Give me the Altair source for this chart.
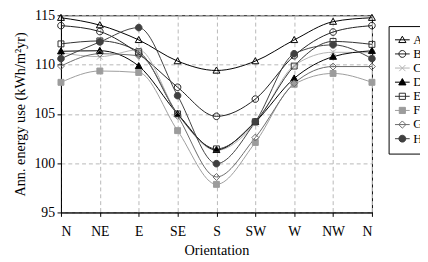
import altair as alt
import pandas as pd

orientations = ["N", "NE", "E", "SE", "S", "SW", "W", "NW", "N"]
series = ["A", "B", "C", "D", "E", "F", "G", "H"]

A = [114.75, 114.0, 112.5, 110.35, 109.4, 110.35, 112.5, 114.35, 114.75]
B = [113.95, 113.35, 111.1, 107.7, 104.75, 106.5, 110.9, 113.3, 113.95]
C = [111.2, 110.8, 111.5, 105.0, 101.3, 104.0, 109.9, 111.25, 111.2]
D = [111.35, 111.4, 109.85, 105.0, 101.35, 104.2, 108.6, 110.8, 111.4]
E = [112.1, 112.4, 111.3, 105.0, 101.45, 104.2, 109.85, 112.35, 112.05]
F = [108.2, 109.35, 109.2, 103.3, 97.85, 102.1, 108.0, 109.1, 108.2]
G = [109.85, 111.1, 110.9, 104.8, 98.6, 102.6, 108.1, 109.8, 109.8]
H = [110.6, 112.3, 113.75, 106.85, 99.95, 104.2, 111.1, 112.0, 110.6]
series_values = {"A": A, "B": B, "C": C, "D": D, "E": E, "F": F, "G": G, "H": H}

line_colors = ["#000000", "#1e1e1e", "#b4b4b4", "#000000", "#303030", "#9c9c9c", "#6a6a6a", "#404040"]
marker_fill = ["transparent", "transparent", "transparent", "#000000",
               "transparent", "#9c9c9c", "transparent", "#404040"]

tri = "M0,-1.05L1.05,0.8L-1.05,0.8Z"
circ = "M1,0A1,1,0,1,1,-1,0A1,1,0,1,1,1,0Z"
sq = "M-0.9,-0.9L0.9,-0.9L0.9,0.9L-0.9,0.9Z"
xm = "M-0.9,-0.9L0.9,0.9M0.9,-0.9L-0.9,0.9"
dia = "M0,-1.05L1.05,0L0,1.05L-1.05,0Z"
marker_shapes = [tri, circ, xm, tri, sq, sq, dia, circ]
stub = "M-2.14,0L2.14,0"
legend_shapes = [stub + s for s in marker_shapes]

rows = []
for s in series:
    for i, v in enumerate(series_values[s]):
        rows.append({"series": s, "pos": i, "value": v})
df = pd.DataFrame(rows)

label_expr = "[" + ",".join("'" + o + "'" for o in orientations) + "][datum.value]"

FONT = "Liberation Serif"

x_enc = alt.X(
    "pos:Q",
    scale=alt.Scale(domain=[0, 8], nice=False, zero=False),
    axis=alt.Axis(values=list(range(9)), labelExpr=label_expr, title="Orientation",
                  labelPadding=8, titlePadding=6),
)
y_enc = alt.Y(
    "value:Q",
    scale=alt.Scale(domain=[95, 115], nice=False, zero=False),
    axis=alt.Axis(values=[95, 100, 105, 110, 115], title="Ann. energy use (kWh/m²yr)",
                  labelPadding=2.5, titlePadding=7),
)

base = alt.Chart(df)

lines = base.mark_line(interpolate="monotone", strokeWidth=1).encode(
    x=x_enc,
    y=y_enc,
    stroke=alt.Stroke("series:N", scale=alt.Scale(domain=series, range=line_colors), legend=None),
)

points = base.mark_point(size=45, strokeWidth=1, opacity=1).encode(
    x=x_enc,
    y=y_enc,
    shape=alt.Shape("series:N", scale=alt.Scale(domain=series, range=marker_shapes), legend=None),
    fill=alt.Fill("series:N", scale=alt.Scale(domain=series, range=marker_fill), legend=None),
    stroke=alt.Stroke("series:N", scale=alt.Scale(domain=series, range=line_colors), legend=None),
)

leg = alt.Legend(
    title=None, orient="none", legendX=334, legendY=11,
    symbolSize=49, symbolStrokeWidth=1, labelFont=FONT, labelFontSize=13,
    labelColor="black", labelOffset=4.5, padding=7.5, rowPadding=0.4,
    strokeColor="black", fillColor="white",
)

legend_layer = base.mark_point(size=49, strokeWidth=1, opacity=1).encode(
    shape=alt.Shape("series:N", scale=alt.Scale(domain=series, range=legend_shapes), legend=leg),
    fill=alt.Fill("series:N", scale=alt.Scale(domain=series, range=marker_fill), legend=leg),
    stroke=alt.Stroke("series:N", scale=alt.Scale(domain=series, range=line_colors), legend=leg),
).transform_filter("false")

chart = alt.layer(lines, points, legend_layer).resolve_scale(
    shape="independent", fill="independent", stroke="independent"
).properties(
    width=317, height=201,
    padding={"left": 54, "top": 5, "right": 49, "bottom": 44},
    autosize=alt.AutoSizeParams(type="none"),
).configure_axis(
    labelFont=FONT, labelFontSize=14, labelColor="black",
    titleFont=FONT, titleFontSize=14.5, titleFontWeight="normal", titleColor="black",
    domainColor="black", tickColor="black", tickSize=4,
    gridColor="#b8b8b8", gridDash=[4, 3], gridWidth=1,
).configure_view(stroke="black", strokeWidth=1)

chart.save("out.html", embed_options={"renderer": "svg", "actions": False})
